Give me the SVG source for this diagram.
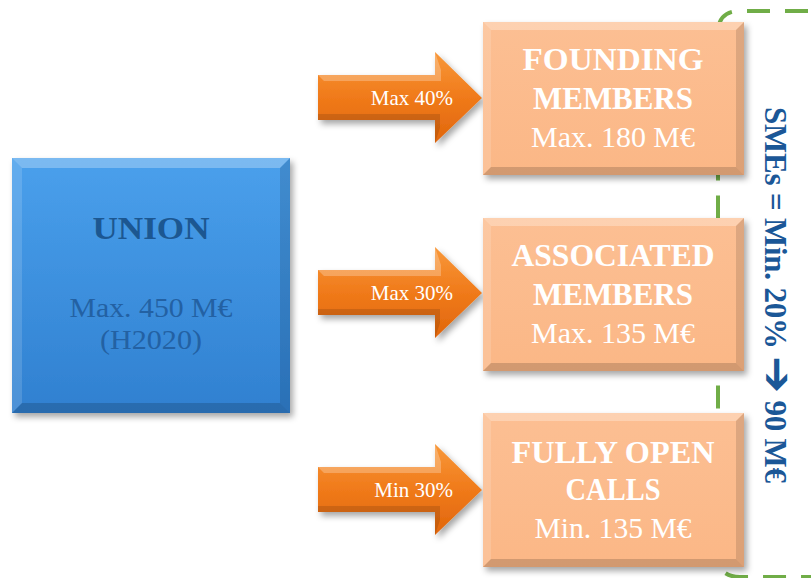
<svg xmlns="http://www.w3.org/2000/svg" width="811" height="578" viewBox="0 0 811 578">
<defs>
<linearGradient id="gBlue" x1="0" y1="0" x2="0" y2="1">
<stop offset="0" stop-color="#4aa0ec"/>
<stop offset="1" stop-color="#3080d0"/>
</linearGradient>
<linearGradient id="gPeach" x1="0" y1="0" x2="0" y2="1">
<stop offset="0" stop-color="#fcbf93"/>
<stop offset="1" stop-color="#fbb786"/>
</linearGradient>
<linearGradient id="gOrange" x1="0" y1="0" x2="0" y2="1">
<stop offset="0" stop-color="#f8983a"/>
<stop offset="0.5" stop-color="#f07a1a"/>
<stop offset="1" stop-color="#e0660c"/>
</linearGradient>
<filter id="sh" x="-10%" y="-10%" width="130%" height="130%">
<feDropShadow dx="3" dy="4" stdDeviation="3" flood-color="#000" flood-opacity="0.35"/>
</filter>
<path id="arrow" d="M318,75 H435 V52 L482,98 L435,143 V120 H318 Z"/>
</defs>
<style>
.hi{fill:#fff;opacity:.28}
.hl{fill:#fff;opacity:.14}
.dr{fill:#000;opacity:.12}
.db{fill:#000;opacity:.16}
.ttl{font-family:"Liberation Serif",serif;font-weight:bold;font-size:32px;fill:#fff;text-anchor:middle}
.sub{font-family:"Liberation Serif",serif;font-size:29px;fill:#fff;text-anchor:middle}
.alab{font-family:"Liberation Serif",serif;font-size:21px;fill:#fff;text-anchor:end}
.peach{fill:url(#gPeach);filter:url(#sh)}
</style>

<g id="sme-boundary">
<path d="M811,11 H740 Q718,11 718,33 V555 Q718,577 740,577 H811" fill="none" stroke="#70ad47" stroke-width="4" stroke-dasharray="23,15" stroke-dashoffset="35"/>
</g>

<g id="union">
<rect x="12" y="158" width="278" height="255" fill="url(#gBlue)" filter="url(#sh)"/>
<polygon class="hi" points="12,158 290,158 280,168 22,168"/>
<polygon class="hl" points="12,158 22,168 22,403 12,413"/>
<polygon class="dr" points="290,158 290,413 280,403 280,168"/>
<polygon class="db" points="12,413 290,413 280,403 22,403"/>
<text x="151" y="239" font-family="Liberation Serif,serif" font-weight="bold" font-size="32" fill="#1c5791" text-anchor="middle" textLength="117" lengthAdjust="spacingAndGlyphs">UNION</text>
<text x="151" y="317" font-family="Liberation Serif,serif" font-size="28" fill="#2361a3" text-anchor="middle" textLength="163" lengthAdjust="spacingAndGlyphs">Max. 450 M€</text>
<text x="151" y="349" font-family="Liberation Serif,serif" font-size="28" fill="#2361a3" text-anchor="middle" textLength="102" lengthAdjust="spacingAndGlyphs">(H2020)</text>
</g>

<g id="connectors">
<g id="arrow1">
<use href="#arrow" fill="url(#gOrange)" filter="url(#sh)"/>
<polygon points="318,75 435,75 435,52 441,70 441,81 324,81" fill="#fff" opacity=".25"/>
<polygon points="318,120 435,120 435,143 440,128 440,114 318,114" fill="#000" opacity=".12"/>
<text class="alab" x="453" y="105">Max 40%</text>
</g>
<g id="arrow2" transform="translate(0,195)">
<use href="#arrow" fill="url(#gOrange)" filter="url(#sh)"/>
<polygon points="318,75 435,75 435,52 441,70 441,81 324,81" fill="#fff" opacity=".25"/>
<polygon points="318,120 435,120 435,143 440,128 440,114 318,114" fill="#000" opacity=".12"/>
<text class="alab" x="453" y="105">Max 30%</text>
</g>
<g id="arrow3" transform="translate(0,392)">
<use href="#arrow" fill="url(#gOrange)" filter="url(#sh)"/>
<polygon points="318,75 435,75 435,52 441,70 441,81 324,81" fill="#fff" opacity=".25"/>
<polygon points="318,120 435,120 435,143 440,128 440,114 318,114" fill="#000" opacity=".12"/>
<text class="alab" x="453" y="105">Min 30%</text>
</g>
</g>

<g id="founding">
<rect class="peach" x="483" y="22" width="261" height="153"/>
<polygon class="hi" points="483,22 744,22 736,30 491,30"/>
<polygon class="hl" points="483,22 491,30 491,167 483,175"/>
<polygon class="dr" points="744,22 744,175 736,167 736,30"/>
<polygon class="db" points="483,175 744,175 736,167 491,167"/>
<text class="ttl" x="613" y="70" textLength="181" lengthAdjust="spacingAndGlyphs">FOUNDING</text>
<text class="ttl" x="613" y="109" textLength="160" lengthAdjust="spacingAndGlyphs">MEMBERS</text>
<text class="sub" x="613" y="147" textLength="164" lengthAdjust="spacingAndGlyphs">Max. 180 M€</text>
</g>

<g id="associated">
<rect class="peach" x="483" y="218" width="261" height="153"/>
<polygon class="hi" points="483,218 744,218 736,226 491,226"/>
<polygon class="hl" points="483,218 491,226 491,363 483,371"/>
<polygon class="dr" points="744,218 744,371 736,363 736,226"/>
<polygon class="db" points="483,371 744,371 736,363 491,363"/>
<text class="ttl" x="613" y="266" textLength="203" lengthAdjust="spacingAndGlyphs">ASSOCIATED</text>
<text class="ttl" x="613" y="305" textLength="160" lengthAdjust="spacingAndGlyphs">MEMBERS</text>
<text class="sub" x="613" y="343" textLength="164" lengthAdjust="spacingAndGlyphs">Max. 135 M€</text>
</g>

<g id="open-calls">
<rect class="peach" x="483" y="413" width="261" height="154"/>
<polygon class="hi" points="483,413 744,413 736,421 491,421"/>
<polygon class="hl" points="483,413 491,421 491,559 483,567"/>
<polygon class="dr" points="744,413 744,567 736,559 736,421"/>
<polygon class="db" points="483,567 744,567 736,559 491,559"/>
<text class="ttl" x="613" y="463" textLength="203" lengthAdjust="spacingAndGlyphs">FULLY OPEN</text>
<text class="ttl" x="613" y="500" textLength="95" lengthAdjust="spacingAndGlyphs">CALLS</text>
<text class="sub" x="613" y="538" textLength="157" lengthAdjust="spacingAndGlyphs">Min. 135 M€</text>
</g>

<g id="sme-label">
<text transform="translate(765,295) rotate(90)" x="0" y="0" font-family="Liberation Serif,serif" font-weight="bold" font-size="31" fill="#1b5797" text-anchor="middle" textLength="376">SMEs = Min. 20% <tspan font-family="DejaVu Sans,sans-serif" font-size="44" font-weight="bold" dy="2">➔</tspan><tspan dy="-2"> 90 M€</tspan></text>
</g>
</svg>
